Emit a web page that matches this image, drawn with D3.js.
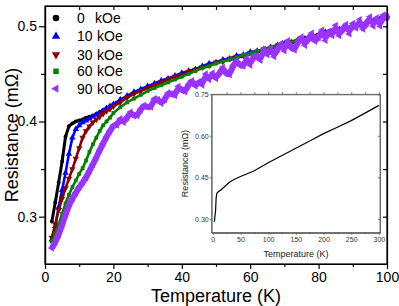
<!DOCTYPE html>
<html>
<head>
<meta charset="utf-8">
<script src="https://cdn.jsdelivr.net/npm/d3@7"></script>
<style>
  body { margin: 0; background: #fff; }
  svg { display: block; font-family: "Liberation Sans", Arial, sans-serif; }
  .axis path, .axis line { stroke: #000; stroke-width: 1.2; }
  .axis text { fill: #000; font-size: 14px; }
  .inset .axis path, .inset .axis line { stroke: #555; stroke-width: 0.8; }
  .inset .axis text { fill: #333; font-size: 7px; }
</style>
</head>
<body>
<script>

// main panel data: temperature (K) and resistance (mOhm)
var temps = [2,3,4,5,6,7,8,9,10,11,12,13,14,15,16,17,18,19,20,
  22,24,26,28,30,32,34,36,38,40,42,44,46,48,50,52,54,56,58,60,
  62,64,66,68,70,72,74,76,78,80,82,84,86,88,90,92,94,96,98,100];

var r0 = [0.295,0.315,0.336,0.358,0.384,0.395,0.398,0.400,0.401,0.402,0.404,0.405,0.406,0.408,0.410,0.412,0.414,0.416,0.418,
  0.422,0.426,0.430,0.433,0.436,0.439,0.442,0.445,0.447,0.450,0.452,0.455,0.457,0.459,0.462,0.464,0.465,0.467,0.469,0.471,
  0.473,0.475,0.477,0.479,0.481,0.483,0.485,0.487,0.489,0.491,0.493,0.494,0.496,0.498,0.500,0.502,0.503,0.505,0.507,0.509];

var r10 = [0.276,0.290,0.310,0.328,0.346,0.366,0.383,0.392,0.396,0.399,0.401,0.403,0.405,0.407,0.409,0.411,0.414,0.416,0.418,
  0.423,0.427,0.431,0.434,0.437,0.440,0.443,0.445,0.448,0.451,0.453,0.455,0.458,0.461,0.462,0.465,0.466,0.469,0.470,0.473,
  0.474,0.476,0.478,0.480,0.482,0.483,0.486,0.487,0.490,0.491,0.494,0.495,0.497,0.498,0.501,0.502,0.504,0.505,0.508,0.510];

var r30 = [0.278,0.292,0.307,0.319,0.330,0.340,0.350,0.361,0.372,0.383,0.390,0.395,0.399,0.402,0.405,0.408,0.411,0.413,0.416,
  0.420,0.425,0.429,0.432,0.435,0.438,0.441,0.444,0.447,0.449,0.452,0.454,0.457,0.459,0.462,0.463,0.466,0.468,0.469,0.472,
  0.473,0.476,0.477,0.480,0.481,0.484,0.485,0.487,0.488,0.491,0.492,0.495,0.496,0.498,0.499,0.502,0.503,0.506,0.506,0.509];

var r60 = [0.274,0.282,0.292,0.303,0.314,0.323,0.331,0.338,0.345,0.351,0.359,0.368,0.376,0.383,0.390,0.396,0.400,0.404,0.409,
  0.415,0.420,0.424,0.428,0.432,0.435,0.438,0.441,0.444,0.447,0.450,0.453,0.456,0.458,0.461,0.463,0.465,0.467,0.470,0.471,
  0.474,0.475,0.478,0.479,0.482,0.483,0.486,0.486,0.489,0.490,0.493,0.494,0.497,0.497,0.500,0.501,0.504,0.504,0.507,0.508];

// 90 kOe is noisier, read at 1 K steps
var temps90 = [2,3,4,5,6,7,8,9,10,11,12,13,14,15,16,17,18,19,
  20,21,22,23,24,25,26,27,28,29,30,31,32,33,34,35,36,37,38,39,40,
  41,42,43,44,45,46,47,48,49,50,51,52,53,54,55,56,57,58,59,60,
  61,62,63,64,65,66,67,68,69,70,71,72,73,74,75,76,77,78,79,80,
  81,82,83,84,85,86,87,88,89,90,91,92,93,94,95,96,97,98,99,100];

var r90 = [0.267,0.273,0.281,0.291,0.302,0.312,0.319,0.325,0.331,0.336,0.341,0.348,0.355,0.362,0.370,0.377,0.384,0.390,
  0.396,0.396,0.403,0.399,0.404,0.410,0.406,0.406,0.413,0.417,0.415,0.415,0.424,0.423,0.419,0.423,0.430,0.429,0.427,0.437,0.433,
  0.431,0.439,0.443,0.437,0.442,0.438,0.450,0.444,0.451,0.445,0.451,0.457,0.450,0.449,0.459,0.464,0.459,0.458,0.467,0.459,
  0.469,0.469,0.464,0.476,0.470,0.477,0.468,0.476,0.482,0.474,0.485,0.477,0.475,0.484,0.489,0.480,0.487,0.493,0.484,0.488,
  0.496,0.485,0.495,0.490,0.501,0.490,0.497,0.502,0.492,0.503,0.498,0.507,0.497,0.503,0.510,0.500,0.509,0.500,0.512,0.510];

var seriesNames = ['0', '10', '30', '60', '90'];
var seriesColors = ['#000000', '#0000ff', '#8b0000', '#008000', '#9933ff'];

// inset: full temperature range
var insetTemps = [2,3,5,6,7,8,10,15,20,25,30,40,50,60,75,100,125,150,175,200,225,250,275,300];
var insetR = [0.290,0.292,0.330,0.375,0.390,0.394,0.398,0.405,0.414,0.423,0.432,0.444,0.453,0.461,0.474,0.503,0.529,0.555,0.581,0.608,0.631,0.655,0.682,0.710];

var xTicks = [0, 20, 40, 60, 80, 100];
var yTicks = [0.3, 0.4, 0.5];
var insetXTicks = [0, 50, 100, 150, 200, 250, 300];
var insetYTicks = [0.30, 0.45, 0.60, 0.75];


var W = 399, H = 306;
var m = {left: 45, right: 387, top: 6, bottom: 264};

var svg = d3.select('body').append('svg')
    .attr('width', W)
    .attr('height', H);

var x = d3.scaleLinear().domain([0, 100]).range([m.left, m.right]);
var y = d3.scaleLinear().domain([0.2503, 0.5213]).range([m.bottom, m.top]);

var symbols = [
    d3.symbol().type(d3.symbolCircle).size(12),
    d3.symbol().type(d3.symbolTriangle).size(18),
    d3.symbol().type(d3.symbolTriangle).size(18),
    d3.symbol().type(d3.symbolSquare).size(14),
    d3.symbol().type(d3.symbolTriangle).size(22)
];
var rotations = [0, 0, 180, 0, -90];

var series = [
    {t: temps, r: r0},
    {t: temps, r: r10},
    {t: temps, r: r30},
    {t: temps, r: r60},
    {t: temps90, r: r90}
];

var line = d3.line()
    .x(function(d) { return x(d[0]); })
    .y(function(d) { return y(d[1]); });

// smoothed band for the noisy 90 kOe set
var bandLine = d3.line()
    .curve(d3.curveBasis)
    .x(function(d) { return x(d[0]); })
    .y(function(d) { return y(d[1]); });

var plot = svg.append('g');

series.forEach(function(s, i) {
    var pts = s.t.map(function(t, j) { return [t, s.r[j]]; });
    plot.append('path')
        .datum(pts)
        .attr('fill', 'none')
        .attr('stroke', seriesColors[i])
        .attr('stroke-width', i == 0 ? 3 : i == 4 ? 6 : 2.6)
        .attr('stroke-linejoin', 'round')
        .attr('d', i == 4 ? bandLine : line);
    plot.selectAll('.pt' + i)
        .data(pts)
      .enter().append('path')
        .attr('class', 'pt' + i)
        .attr('fill', seriesColors[i])
        .attr('transform', function(d) {
            return 'translate(' + x(d[0]) + ',' + y(d[1]) + ') rotate(' + rotations[i] + ')';
        })
        .attr('d', symbols[i]);
});

// axes
var xMinor = d3.range(10, 100, 20);
var yMinor = [0.35, 0.45];

svg.append('g')
    .attr('class', 'axis')
    .attr('transform', 'translate(0,' + m.bottom + ')')
    .call(d3.axisBottom(x).tickValues(xTicks).tickSize(5).tickPadding(3).tickSizeOuter(0).tickFormat(d3.format('d')));
svg.append('g')
    .attr('class', 'axis')
    .attr('transform', 'translate(0,' + m.bottom + ')')
    .call(d3.axisBottom(x).tickValues(xMinor).tickSize(3).tickSizeOuter(0).tickFormat(''));

svg.append('g')
    .attr('class', 'axis')
    .attr('transform', 'translate(' + m.left + ',0)')
    .call(d3.axisLeft(y).tickValues(yTicks).tickSize(6).tickPadding(2).tickSizeOuter(0).tickFormat(d3.format('.1f')));
svg.append('g')
    .attr('class', 'axis')
    .attr('transform', 'translate(' + m.left + ',0)')
    .call(d3.axisLeft(y).tickValues(yMinor).tickSize(4).tickSizeOuter(0).tickFormat(''));

svg.append('g')
    .attr('class', 'axis')
    .attr('transform', 'translate(0,' + m.top + ')')
    .call(d3.axisTop(x).tickValues(d3.range(10, 100, 10)).tickSize(-4).tickSizeOuter(0).tickFormat(''));
svg.append('g')
    .attr('class', 'axis')
    .attr('transform', 'translate(' + m.right + ',0)')
    .call(d3.axisRight(y).tickValues([0.3, 0.35, 0.4, 0.45, 0.5]).tickSize(-4).tickSizeOuter(0).tickFormat(''));

svg.append('rect')
    .attr('x', m.left).attr('y', m.top)
    .attr('width', m.right - m.left).attr('height', m.bottom - m.top)
    .attr('fill', 'none').attr('stroke', '#000').attr('stroke-width', 1.2);

svg.append('text')
    .attr('x', (m.left + m.right) / 2)
    .attr('y', 302)
    .attr('text-anchor', 'middle')
    .style('font-size', '18px')
    .text('Temperature (K)');

svg.append('text')
    .attr('transform', 'translate(18,' + ((m.top + m.bottom) / 2) + ') rotate(-90)')
    .attr('text-anchor', 'middle')
    .style('font-size', '18px')
    .text('Resistance (mΩ)');

// legend
var legendY = [18, 36.3, 54.7, 71.3, 88.7];
var legend = svg.append('g');
seriesNames.forEach(function(name, i) {
    var big = d3.symbol().type(i == 0 ? d3.symbolCircle : i == 3 ? d3.symbolSquare : d3.symbolTriangle).size(i == 0 ? 34 : 30);
    legend.append('path')
        .attr('fill', seriesColors[i])
        .attr('transform', 'translate(56,' + legendY[i] + ') rotate(' + rotations[i] + ')')
        .attr('d', big);
    var t = legend.append('text')
        .attr('y', legendY[i] + 5)
        .style('font-size', '14px');
    t.append('tspan').attr('x', 77).text(name);
    t.append('tspan').attr('x', i == 0 ? 95 : 97).text('kOe');
});

// inset
var ix = d3.scaleLinear().domain([-2, 302]).range([211.7, 380]);
var iy = d3.scaleLinear().domain([0.25, 0.75]).range([232.7, 94.3]);
var inset = svg.append('g').attr('class', 'inset');

inset.append('rect')
    .attr('x', 211.7).attr('y', 94.3)
    .attr('width', 380 - 211.7).attr('height', 232.7 - 94.3)
    .attr('fill', '#fff');

inset.append('g')
    .attr('class', 'axis')
    .attr('transform', 'translate(0,232.7)')
    .call(d3.axisBottom(ix).tickValues(insetXTicks).tickSize(2).tickPadding(2).tickSizeOuter(0));
inset.append('g')
    .attr('class', 'axis')
    .attr('transform', 'translate(0,232.7)')
    .call(d3.axisBottom(ix).tickValues(d3.range(25, 300, 50)).tickSize(1.5).tickSizeOuter(0).tickFormat(''));
inset.append('g')
    .attr('class', 'axis')
    .attr('transform', 'translate(0,94.3)')
    .call(d3.axisTop(ix).tickValues(d3.range(25, 301, 25)).tickSize(2).tickSizeOuter(0).tickFormat(''));
inset.append('g')
    .attr('class', 'axis')
    .attr('transform', 'translate(211.7,0)')
    .call(d3.axisLeft(iy).tickValues(insetYTicks).tickSize(2).tickPadding(1).tickSizeOuter(0).tickFormat(d3.format('.2f')));
inset.append('g')
    .attr('class', 'axis')
    .attr('transform', 'translate(380,0)')
    .call(d3.axisRight(iy).tickValues(insetYTicks).tickSize(-2).tickSizeOuter(0).tickFormat(''));

inset.append('rect')
    .attr('x', 211.7).attr('y', 94.3)
    .attr('width', 380 - 211.7).attr('height', 232.7 - 94.3)
    .attr('fill', 'none').attr('stroke', '#555').attr('stroke-width', 0.8);

inset.append('path')
    .datum(insetTemps.map(function(t, j) { return [t, insetR[j]]; }))
    .attr('fill', 'none')
    .attr('stroke', '#000')
    .attr('stroke-width', 1.2)
    .attr('d', d3.line()
        .x(function(d) { return ix(d[0]); })
        .y(function(d) { return iy(d[1]); }));

inset.append('text')
    .attr('x', 296).attr('y', 256.5)
    .attr('text-anchor', 'middle')
    .style('font-size', '9px')
    .style('fill', '#222')
    .text('Temperature (K)');

inset.append('text')
    .attr('transform', 'translate(188,163.5) rotate(-90)')
    .attr('text-anchor', 'middle')
    .style('font-size', '9px')
    .style('fill', '#222')
    .text('Resistance (mΩ)');

</script>
</body>
</html>
